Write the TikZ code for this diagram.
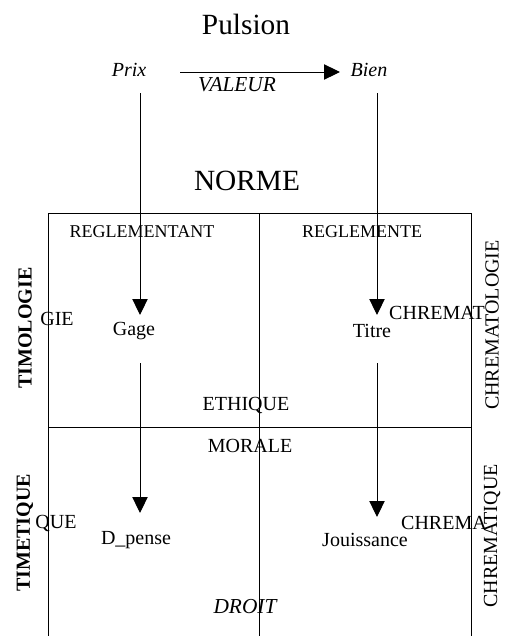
\documentclass[tikz,border=0pt]{standalone}
\usepackage{fontspec}
\setmainfont{Liberation Serif}
\usetikzlibrary{arrows.meta}
\tikzset{
  titre/.style={font=\fontsize{22}{24}\selectfont},
  texte/.style={font=\fontsize{15}{17}\selectfont},
  regle/.style={font=\fontsize{13.5}{15}\selectfont},
  ital/.style={font=\fontsize{16}{18}\selectfont\itshape},
  petitital/.style={font=\fontsize{15}{17}\selectfont\itshape},
  cote/.style={rotate=90, font=\fontsize{15}{17}\selectfont},
  fleche/.style={-{Triangle[length=12pt,width=11.5pt]}}
}

\begin{document}
\begin{tikzpicture}[x=0.75pt,y=-0.75pt,line width=0.75pt]
\useasboundingbox (0,0) rectangle (506,636);

% titres
\node[titre] (pulsion) at (246,24) {Pulsion};
\node[titre] (norme) at (247,181) {NORME};

% prix et bien
\node[petitital] (prix) at (129,70) {Prix};
\node[petitital] (bien) at (369,70) {Bien};
\node[ital] (valeur) at (237,85) {VALEUR};
\coordinate (valdebut) at (180,72);
\coordinate (valfin) at (340,72);
\draw[fleche] (valdebut) -- (valfin);

% le tableau
\draw (48,636) -- (48,213) -- (471,213) -- (471,636);
\draw (48,427) -- (471,427);
\draw (259,213) -- (259,636);

\node[regle] (reglant) at (142,232) {REGLEMENTANT};
\node[regle] (regle) at (362,232) {REGLEMENTE};
\node[texte] (ethique) at (246,405) {ETHIQUE};
\node[texte] (morale) at (250,446) {MORALE};
\node[ital] (droit) at (245,607) {DROIT};

% cases
\node[texte] (gage) at (134,331) {Gage};
\node[texte] (titre) at (372,331) {Titre};
\node[texte] (dpense) at (136,540) {D\_pense};
\node[texte] (jouis) at (365,540) {Jouissance};

% fleches verticales
\coordinate (prixbas) at (140,93);
\coordinate (bienbas) at (377,93);
\coordinate (gagebas) at (140,363);
\coordinate (titrebas) at (377,363);
\draw[fleche] (prixbas) -- (prixbas |- 0,315);
\draw[fleche] (bienbas) -- (bienbas |- 0,315);
\draw[fleche] (gagebas) -- (gagebas |- 0,513);
\draw[fleche] (titrebas) -- (titrebas |- 0,517);

% etiquettes des cotes
\node[cote] (timol) at (25,328) {\textbf{TIMOLOGIE}};
\node[cote] (chremol) at (492,325) {CHREMATOLOGIE};
\node[cote] (timet) at (25,533) {\textbf{TIMETIQUE}};
\node[cote] (chremat) at (492,536) {CHREMATIQUE};

% restes de texte
\node[texte] (gie) at (57,319) {GIE};
\node[texte] (chremh) at (437,313) {CHREMAT};
\node[texte] (que) at (56,523) {QUE};
\node[texte] (chremb) at (444,523) {CHREMA};
\end{tikzpicture}
\end{document}
